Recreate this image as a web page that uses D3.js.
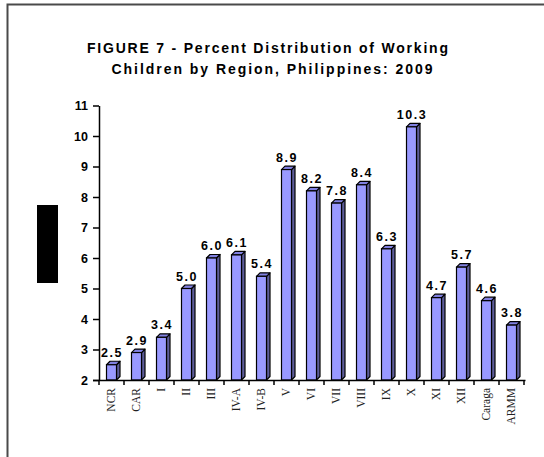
<!DOCTYPE html>
<html>
<head>
<meta charset="utf-8">
<script src="https://cdn.jsdelivr.net/npm/d3@7"></script>
<style>
  html, body { margin: 0; padding: 0; background: #fff; }
  svg { display: block; }
</style>
</head>
<body>
<svg id="chart" width="544" height="457"></svg>
<script>
// Regions and their share of working children (%)
const regions = ["NCR", "CAR", "I", "II", "III", "IV-A", "IV-B", "V", "VI", "VII",
  "VIII", "IX", "X", "XI", "XII", "Caraga", "ARMM"];
const percents = [2.5, 2.9, 3.4, 5.0, 6.0, 6.1, 5.4, 8.9, 8.2, 7.8,
  8.4, 6.3, 10.3, 4.7, 5.7, 4.6, 3.8];
const yTicks = [2, 3, 4, 5, 6, 7, 8, 9, 10, 11];
const titleLines = [
  "FIGURE 7 - Percent Distribution of Working",
  "Children by Region, Philippines: 2009",
];

const svg = d3.select("#chart");
const plot = { left: 99, right: 523.5, top: 105.5, bottom: 380 };
const depth = 3.5;

// frame (left + top only)
svg.append("path")
  .attr("d", "M7.5,457 L7.5,4.5 L544,4.5")
  .attr("fill", "none")
  .attr("stroke", "#4a4a4a")
  .attr("stroke-width", 2);

// title
svg.selectAll("text.title")
  .data(titleLines)
  .join("text")
  .attr("class", "title")
  .attr("x", (d, i) => (i === 0 ? 267.5 : 272))
  .attr("y", (d, i) => 53 + i * 21)
  .attr("text-anchor", "middle")
  .attr("font-family", "Liberation Sans, Arial, sans-serif")
  .attr("font-weight", "bold")
  .attr("font-size", 14)
  .attr("textLength", (d, i) => (i === 0 ? 361 : 321))
  .attr("lengthAdjust", "spacing")
  .text((d) => d);

// black block on the left
svg.append("rect")
  .attr("x", 37).attr("y", 205)
  .attr("width", 21).attr("height", 78)
  .attr("fill", "#000");

const x = d3.scaleBand()
  .domain(regions)
  .range([98.5, plot.right])
  .padding(0);

const y = d3.scaleLinear()
  .domain([2, 11])
  .range([plot.bottom, plot.top]);

// y axis
const yAxis = svg.append("g")
  .attr("transform", `translate(${plot.left},0)`)
  .call(d3.axisLeft(y).tickValues(yTicks).tickSize(6).tickSizeOuter(0).tickPadding(5));
yAxis.select(".domain").attr("stroke", "#000").attr("stroke-width", 1.5);
yAxis.selectAll(".tick line").attr("stroke", "#000").attr("stroke-width", 1.5);
yAxis.selectAll(".tick text")
  .attr("font-family", "Liberation Sans, Arial, sans-serif")
  .attr("font-weight", "bold")
  .attr("font-size", 12.5)
  .attr("fill", "#000");

// bars (front, top, side faces)
const barOffset = 8, barW = 10;
const bars = svg.append("g").selectAll("g")
  .data(regions.map((r, i) => ({ r, v: percents[i] })))
  .join("g");

bars.append("path")
  .attr("d", (d) => {
    const x0 = x(d.r) + barOffset + barW, y0 = y(d.v);
    return `M${x0},${y0} L${x0 + depth},${y0 - depth} L${x0 + depth},${plot.bottom - depth} L${x0},${plot.bottom} Z`;
  })
  .attr("fill", "#5c5c99")
  .attr("stroke", "#000")
  .attr("stroke-width", 1.2)
  .attr("stroke-linejoin", "round");

bars.append("path")
  .attr("d", (d) => {
    const x0 = x(d.r) + barOffset, y0 = y(d.v);
    return `M${x0},${y0} L${x0 + depth},${y0 - depth} L${x0 + barW + depth},${y0 - depth} L${x0 + barW},${y0} Z`;
  })
  .attr("fill", "#8080e0")
  .attr("stroke", "#000")
  .attr("stroke-width", 1.2)
  .attr("stroke-linejoin", "round");

bars.append("rect")
  .attr("x", (d) => x(d.r) + barOffset)
  .attr("y", (d) => y(d.v))
  .attr("width", barW)
  .attr("height", (d) => plot.bottom - y(d.v))
  .attr("fill", "#9999ff")
  .attr("stroke", "#000")
  .attr("stroke-width", 1.2);

// value labels
bars.append("text")
  .attr("x", (d) => x(d.r) + x.bandwidth() / 2 + 1)
  .attr("y", (d) => y(d.v) - 8)
  .attr("text-anchor", "middle")
  .attr("font-family", "Liberation Sans, Arial, sans-serif")
  .attr("font-weight", "bold")
  .attr("font-size", 12.5)
  .attr("letter-spacing", 1.5)
  .text((d) => d.v.toFixed(1));

// x axis: boundary ticks from a linear index scale
const xIdx = d3.scaleLinear().domain([0, regions.length]).range([98.5, plot.right]);
const xAxis = svg.append("g")
  .attr("transform", `translate(0,${plot.bottom})`)
  .call(d3.axisBottom(xIdx).ticks(regions.length).tickFormat("").tickSize(5).tickSizeOuter(0));
xAxis.select(".domain").attr("d", `M93,0.5H${plot.right + 2}`).attr("stroke", "#000").attr("stroke-width", 1.5);
xAxis.selectAll(".tick line").attr("stroke", "#000").attr("stroke-width", 1.5);

// x category labels (rotated)
const xLab = svg.append("g")
  .attr("transform", `translate(0,${plot.bottom})`)
  .call(d3.axisBottom(x).tickSize(0).tickPadding(0));
xLab.select(".domain").remove();
xLab.selectAll(".tick text")
  .attr("transform", "rotate(-90)")
  .attr("x", -8)
  .attr("y", 0)
  .attr("dy", "0.35em")
  .attr("text-anchor", "end")
  .attr("font-family", "Liberation Serif, Times New Roman, serif")
  .attr("font-size", 11.5)
  .attr("fill", "#222");
</script>
</body>
</html>
